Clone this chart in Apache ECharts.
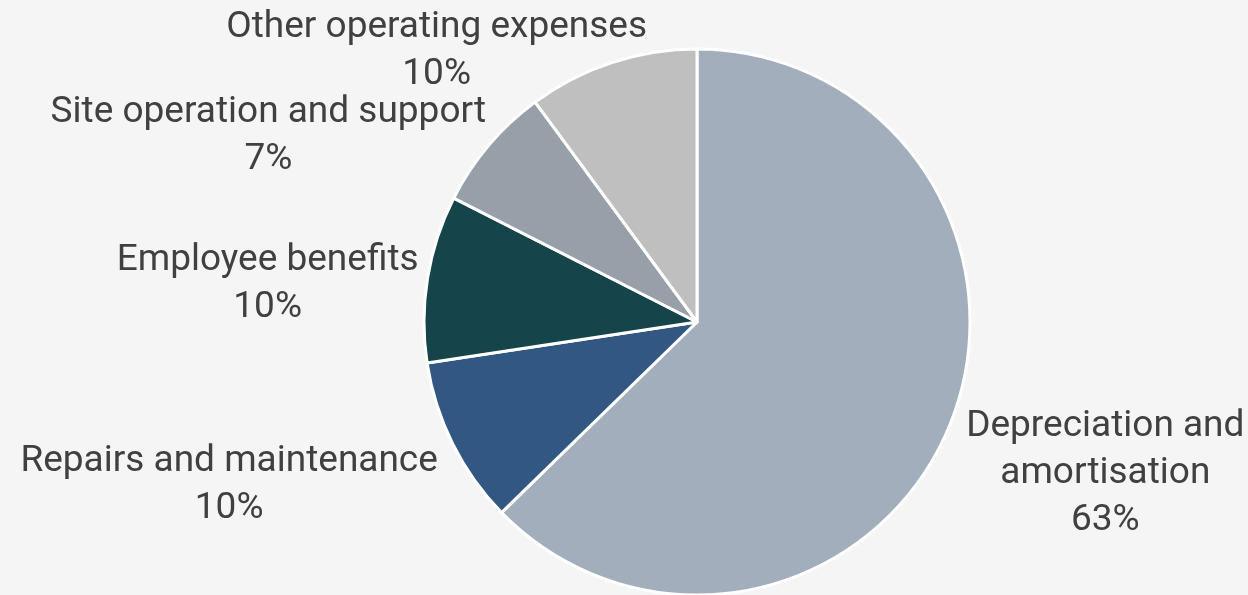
<!DOCTYPE html>
<html><head><meta charset="utf-8">
<script src="https://cdn.jsdelivr.net/npm/echarts@6/dist/echarts.min.js"></script>
<style>html,body{margin:0;padding:0;background:#f5f5f5;}#c{width:1248px;height:595px;}</style>
</head><body><div id="c"></div>
<script>
const categories = ['Depreciation and\namortisation', 'Repairs and maintenance', 'Employee benefits', 'Site operation and support', 'Other operating expenses'];
const values = [62.7, 9.9, 9.9, 7.4, 10.1];
const colors = ['#a3aebd', '#325782', '#15444a', '#979fa9', '#bfbfbf'];
// label nudges (style only)
const labelShift = [[4, 41], [1, 36], [3, 8], [15, -11], [44, 0]];

const chart = echarts.init(document.getElementById('c'));
chart.setOption({
  backgroundColor: '#f5f5f5',
  animation: false,
  series: [{
    type: 'pie',
    center: [697, 322],
    radius: 273,
    startAngle: 90,
    clockwise: true,
    data: categories.map((n, i) => ({ name: n, value: values[i], itemStyle: { color: colors[i] } })),
    itemStyle: { borderColor: '#ffffff', borderWidth: 3 },
    label: {
      show: true,
      position: 'outside',
      overflow: 'none',
      formatter: p => p.name.split('\n').map(s => '{a|' + s + '}').join('\n') + '\n{a|' + Math.round(p.percent) + '%}',
      fontFamily: 'Roboto',
      fontSize: 37,
      lineHeight: 47,
      color: '#404040',
      rich: { a: { fontFamily: 'Roboto', fontSize: 37, lineHeight: 47, color: '#404040', align: 'center' } }
    },
    labelLine: { show: false, length: 12, length2: 0 },
    labelLayout: p => ({ dx: labelShift[p.dataIndex][0], dy: labelShift[p.dataIndex][1] })
  }]
});
</script></body></html>
